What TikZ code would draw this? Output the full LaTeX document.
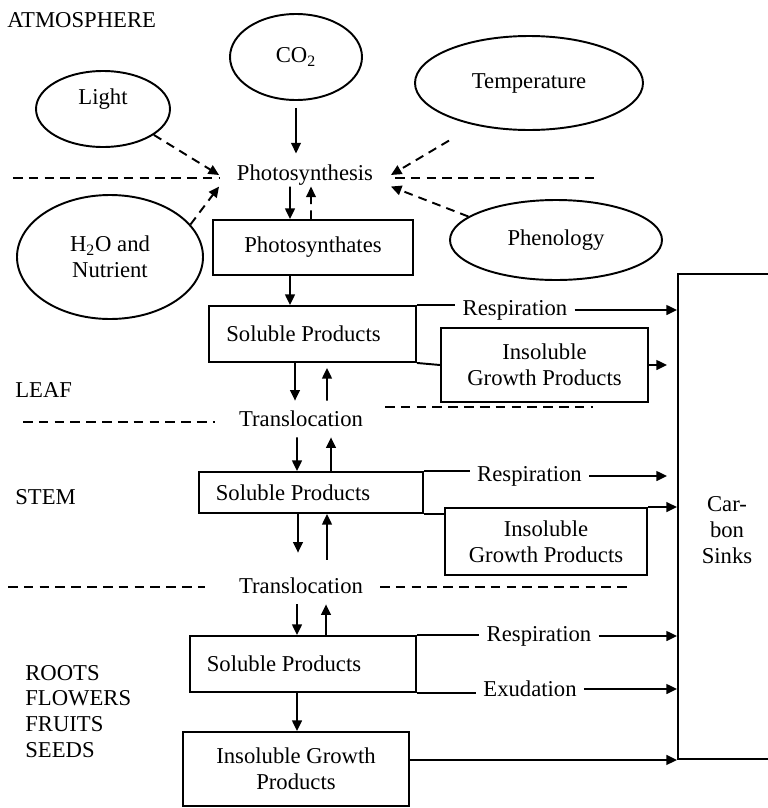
\documentclass[tikz,border=0pt]{standalone}
\usepackage{fontspec}
\setmainfont{Liberation Serif}
\usetikzlibrary{arrows.meta,shapes.geometric,positioning}
\tikzset{
    factor/.style={
        ellipse,
        draw,
        line width=1.1pt,
        inner sep=0pt,
        align=center
    },
    poolbox/.style={
        rectangle,
        draw,
        line width=1.1pt,
        inner sep=2pt,
        align=center
    },
    process/.style={
        inner xsep=10pt,
        inner ysep=0.5pt
    },
    transnode/.style={
        inner sep=1pt,
        minimum height=0.72cm
    },
    flowlabel/.style={
        inner xsep=4pt
    },
    zonelabel/.style={
        anchor=west,
        inner sep=0pt,
        align=left
    },
    arrow/.style={
        -{Triangle[length=6pt,width=5.5pt]},
        line width=1.1pt
    },
    dasharrow/.style={
        arrow,
        dash pattern=on 5pt off 3.5pt
    },
    link/.style={
        line width=1.1pt
    },
    boundary/.style={
        line width=1.4pt,
        dash pattern=on 5.5pt off 3.5pt
    }
}

\begin{document}
\begin{tikzpicture}[font=\fontsize{12.9}{14.7}\selectfont]
    \useasboundingbox (0,0) rectangle (15.36,-16.16);
    \clip (0,0) rectangle (15.36,-16.16);

    % Atmosphere: driving factors
    \node[zonelabel] (atmos) at (0.14,-0.40) {ATMOSPHERE};
    \node[factor, minimum width=2.64cm, minimum height=1.72cm] (co2)   at (5.92,-1.14)  {CO\textsubscript{2}};
    \node[factor, minimum width=2.68cm, minimum height=1.52cm, text depth=0.5cm] (light) at (2.06,-2.18) {Light};
    \node[factor, minimum width=4.56cm, minimum height=1.88cm] (temp)  at (10.58,-1.66) {Temperature};
    \node[factor, minimum width=4.24cm, minimum height=1.60cm] (phen)  at (11.12,-4.80) {Phenology};
    \node[factor, minimum width=3.72cm, minimum height=2.48cm] (h2o)   at (2.20,-5.14)  {H\textsubscript{2}O and\\Nutrient};
    \node[process] (photo) at (6.10,-3.50) {Photosynthesis};

    \draw[arrow, shorten <=0.14cm, shorten >=0.2cm] (co2.south) -- (co2.south |- photo.north);
    \draw[dasharrow] (light.-27) -- (photo.west);
    \draw[dasharrow] (h2o.22) -- (photo.south west);
    \draw[dasharrow, shorten <=0.6cm] (temp.218) -- (photo.east);
    \draw[dasharrow] (phen.165) -- (photo.south east);

    % Leaf
    \node[poolbox, minimum width=4.00cm, minimum height=1.10cm] (synth) at (6.26,-4.95) {Photosynthates};
    \node[poolbox, minimum width=4.14cm, minimum height=1.12cm] (sol1)  at (6.25,-6.68) {Soluble Products\hspace*{0.36cm}};
    \node[poolbox, minimum width=4.14cm, minimum height=1.48cm] (ins1)  at (10.89,-7.30) {Insoluble\\Growth Products};
    \node[flowlabel] (resp1) at (10.30,-6.20) {Respiration};
    \node[zonelabel] (leaf) at (0.30,-7.80) {LEAF};
    \node[transnode] (trans1) at (6.02,-8.38) {Translocation};

    \draw[arrow] ([xshift=-0.30cm]photo.south) -- ([xshift=-0.46cm]synth.north);
    \draw[dasharrow] ([xshift=-0.04cm]synth.north) -- ([xshift=0.12cm]photo.south);
    \draw[arrow] ([xshift=-0.46cm]synth.south) -- ([xshift=-0.45cm]sol1.north);

    \draw[link] (sol1.north east) -- (sol1.north east -| resp1.west);
    \draw[link] (sol1.south east) -- (ins1.west);

    \draw[arrow] ([xshift=-0.35cm]sol1.south) -- ([xshift=-0.12cm]trans1.north);
    \draw[arrow, shorten >=0.1cm] ([xshift=0.52cm]trans1.north) -- ([xshift=0.29cm]sol1.south);

    % Stem
    \node[poolbox, minimum width=4.48cm, minimum height=0.82cm] (sol2) at (6.22,-9.85) {Soluble Products\hspace*{0.72cm}};
    \node[poolbox, minimum width=4.04cm, minimum height=1.34cm] (ins2) at (10.92,-10.83) {Insoluble\\Growth Products};
    \node[flowlabel] (resp2) at (10.59,-9.52) {Respiration};
    \node[zonelabel] (stem) at (0.30,-9.94) {STEM};
    \node[transnode] (trans2) at (6.02,-11.72) {Translocation};

    \draw[arrow] ([xshift=-0.08cm]trans1.south) -- ([xshift=-0.28cm]sol2.north);
    \draw[arrow] ([xshift=0.40cm]sol2.north) -- ([xshift=0.60cm]trans1.south);

    \draw[link] (sol2.north east) -- (sol2.north east -| resp2.west);
    \draw[link] (sol2.south east) -- (sol2.south east -| ins2.west);

    \draw[arrow, shorten >=0.3cm] ([xshift=-0.26cm]sol2.south) -- ([xshift=-0.06cm]trans2.north);
    \draw[arrow, shorten <=0.16cm] ([xshift=0.52cm]trans2.north) -- ([xshift=0.32cm]sol2.south);

    % Roots, flowers, fruits, seeds
    \node[poolbox, minimum width=4.52cm, minimum height=1.12cm] (sol3) at (6.06,-13.28) {Soluble Products\hspace*{0.76cm}};
    \node[poolbox, minimum width=4.52cm, minimum height=1.48cm] (ins3) at (5.92,-15.38) {Insoluble Growth\\Products};
    \node[flowlabel] (resp3) at (10.78,-12.72) {Respiration};
    \node[flowlabel] (exud)  at (10.60,-13.78) {Exudation};
    \node[zonelabel] (organs) at (0.50,-14.23) {ROOTS\\FLOWERS\\FRUITS\\SEEDS};

    \draw[arrow] ([xshift=-0.08cm]trans2.south) -- ([xshift=-0.12cm]sol3.north);
    \draw[arrow] ([xshift=0.46cm]sol3.north) -- ([xshift=0.50cm]trans2.south);
    \draw[arrow] ([xshift=-0.12cm]sol3.south) -- ([xshift=0.02cm]ins3.north);

    \draw[link] (sol3.north east) -- (sol3.north east -| resp3.west);
    \draw[link] (sol3.south east) -- (sol3.south east -| exud.west);

    % Carbon sinks
    \node[poolbox, minimum width=1.96cm, minimum height=9.70cm] (sinks) at (14.54,-10.33) {};
    \node[align=center] (sinklabel) at (14.54,-10.60) {Car-\\bon\\Sinks};

    \draw[arrow] (resp1.east) -- (resp1.east -| sinks.west);
    \draw[arrow, shorten >=0.2cm] (ins1.east) -- (ins1.east -| sinks.west);
    \draw[arrow, shorten >=0.2cm] (resp2.east) -- (resp2.east -| sinks.west);
    \draw[arrow] (ins2.north east) -- (ins2.north east -| sinks.west);
    \draw[arrow] (resp3.east) -- (resp3.east -| sinks.west);
    \draw[arrow] (exud.east) -- (exud.east -| sinks.west);
    \draw[arrow] (ins3.east |- sinks.south west) -- (sinks.south west);

    % Zone boundaries
    \draw[boundary] (0.26,-3.56) -- (4.40,-3.56);
    \draw[boundary] (7.90,-3.56) -- (12.00,-3.56);
    \draw[boundary] (0.46,-8.44) -- (4.30,-8.44);
    \draw[boundary] (7.70,-8.14) -- (11.86,-8.14);
    \draw[boundary] (0.16,-11.74) -- (4.10,-11.74);
    \draw[boundary] (7.60,-11.74) -- (12.66,-11.74);
\end{tikzpicture}
\end{document}
